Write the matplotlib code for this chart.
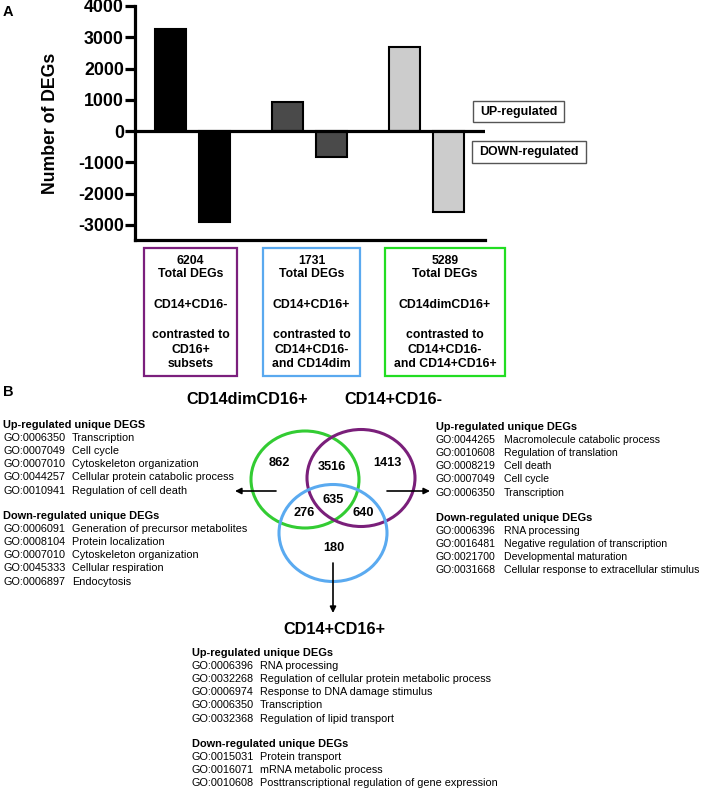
import matplotlib
matplotlib.use("Agg")
import matplotlib.pyplot as plt
import numpy as np
from matplotlib.patches import Ellipse, Rectangle

plt.rcParams["font.family"] = ["Liberation Sans", "DejaVu Sans"]
plt.rcParams["axes.unicode_minus"] = False

# panel A data
subsets = ["CD14+CD16-", "CD14+CD16+", "CD14dimCD16+"]
up_counts = [3280, 920, 2700]
down_counts = [-2920, -830, -2600]
total_degs = [6204, 1731, 5289]
contrasts = [
    ["contrasted to", "CD16+", "subsets"],
    ["contrasted to", "CD14+CD16-", "and CD14dim"],
    ["contrasted to", "CD14+CD16-", "and CD14+CD16+"],
]
bar_colors = ["#000000", "#4a4a4a", "#cccccc"]
box_colors = ["#7b1f7d", "#5aa9ef", "#22dd22"]

# panel B data (venn region counts)
venn_labels = ["862", "3516", "1413", "635", "276", "640", "180"]

left_up = [
    ("GO:0006350", "Transcription"),
    ("GO:0007049", "Cell cycle"),
    ("GO:0007010", "Cytoskeleton organization"),
    ("GO:0044257", "Cellular protein catabolic process"),
    ("GO:0010941", "Regulation of cell death"),
]
left_down = [
    ("GO:0006091", "Generation of precursor metabolites"),
    ("GO:0008104", "Protein localization"),
    ("GO:0007010", "Cytoskeleton organization"),
    ("GO:0045333", "Cellular respiration"),
    ("GO:0006897", "Endocytosis"),
]
right_up = [
    ("GO:0044265", "Macromolecule catabolic process"),
    ("GO:0010608", "Regulation of translation"),
    ("GO:0008219", "Cell death"),
    ("GO:0007049", "Cell cycle"),
    ("GO:0006350", "Transcription"),
]
right_down = [
    ("GO:0006396", "RNA processing"),
    ("GO:0016481", "Negative regulation of transcription"),
    ("GO:0021700", "Developmental maturation"),
    ("GO:0031668", "Cellular response to extracellular stimulus"),
]
bottom_up = [
    ("GO:0006396", "RNA processing"),
    ("GO:0032268", "Regulation of cellular protein metabolic process"),
    ("GO:0006974", "Response to DNA damage stimulus"),
    ("GO:0006350", "Transcription"),
    ("GO:0032368", "Regulation of lipid transport"),
]
bottom_down = [
    ("GO:0015031", "Protein transport"),
    ("GO:0016071", "mRNA metabolic process"),
    ("GO:0010608", "Posttranscriptional regulation of gene expression"),
]

W, H = 707, 790
fig = plt.figure(figsize=(W / 100, H / 100), dpi=100)

# overlay in pixel coordinates for annotations and panel B
ov = fig.add_axes([0, 0, 1, 1])
ov.set_xlim(0, W)
ov.set_ylim(H, 0)
ov.axis("off")

# bar chart
ax = fig.add_axes([135 / W, 1 - 240 / H, 350 / W, 234 / H])
ax.patch.set_alpha(0)
groups = np.arange(len(subsets))
off = 0.188
ax.bar(groups - off, up_counts, width=0.26, color=bar_colors, edgecolor="black", linewidth=1.5, zorder=2)
ax.bar(groups + off, down_counts, width=0.26, color=bar_colors, edgecolor="black", linewidth=1.5, zorder=2)
ax.axhline(0, color="black", linewidth=2.3, zorder=3)
ax.set_xlim(-0.49, 2.5)
ax.set_ylim(-3480, 4000)
ax.set_yticks(np.arange(-3000, 4001, 1000))
ax.set_xticks([])
for side in ("top", "right"):
    ax.spines[side].set_visible(False)
for side in ("left", "bottom"):
    ax.spines[side].set_linewidth(2.3)
ax.tick_params(axis="y", length=7, width=2.3, pad=1, labelsize=12.8)
for lab in ax.get_yticklabels():
    lab.set_fontweight("bold")
ax.set_ylabel("Number of DEGs", fontsize=12.7, fontweight="bold", labelpad=14)

ov.text(3, 12, "A", fontsize=10.5, fontweight="bold", ha="left", va="center")

# legend-like boxes
for (x0, x1, y0, y1), label in zip([(473, 564, 101, 122), (472, 586, 141, 163)], ["UP-regulated", "DOWN-regulated"]):
    ov.add_patch(Rectangle((x0, y0), x1 - x0, y1 - y0, fill=False, edgecolor="#555555", linewidth=1))
    ov.text((x0 + x1) / 2, (y0 + y1) / 2 + 0.5, label, fontsize=8.9, fontweight="bold", ha="center", va="center")

# boxes beneath bars
box_x = [(144, 237), (263, 360), (385, 505)]
line_y = [261, 274, 305, 335, 350, 364]
for i, (x0, x1) in enumerate(box_x):
    ov.add_patch(Rectangle((x0, 248), x1 - x0, 128, fill=False, edgecolor=box_colors[i], linewidth=1.6))
    lines = [str(total_degs[i]), "Total DEGs", subsets[i]] + contrasts[i]
    for y, t in zip(line_y, lines):
        ov.text((x0 + x1) / 2, y, t, fontsize=8.8, fontweight="bold", ha="center", va="center")

# panel B
ov.text(3, 392, "B", fontsize=10.5, fontweight="bold", ha="left", va="center")
ov.text(247, 400, "CD14dimCD16+", fontsize=11.7, fontweight="bold", ha="center", va="center")
ov.text(393, 400, "CD14+CD16-", fontsize=11.7, fontweight="bold", ha="center", va="center")
ov.text(334, 630, "CD14+CD16+", fontsize=11.7, fontweight="bold", ha="center", va="center")

venn_centers = [(305, 479.5), (361, 478), (333, 533)]
venn_colors = ["#33cc33", "#7a1f7a", "#5aaaf0"]
for (cx, cy), c in zip(venn_centers, venn_colors):
    ov.add_patch(Ellipse((cx, cy), 108, 97, fill=False, edgecolor=c, linewidth=2.2))

label_pos = [(279, 463), (332, 467), (387, 463), (333, 500), (304, 513), (363, 513), (334, 548)]
for (x, y), t in zip(label_pos, venn_labels):
    ov.text(x, y, t, fontsize=9.2, fontweight="bold", ha="center", va="center")

arrow = dict(arrowstyle="-|>", color="black", lw=1.2, mutation_scale=9, shrinkA=0, shrinkB=0)
ov.annotate("", xy=(235, 491), xytext=(276, 491), arrowprops=arrow)
ov.annotate("", xy=(430, 491), xytext=(387, 491), arrowprops=arrow)
ov.annotate("", xy=(333, 613), xytext=(333, 563), arrowprops=arrow)


def go_block(x_id, x_desc, y_top, up, down, heading_up, size=7.8, step=13.1, gap=25.5):
    ov.text(x_id, y_top, heading_up, fontsize=7.9, fontweight="bold", ha="left", va="center")
    y = y_top
    for go, desc in up:
        y += step
        ov.text(x_id, y, go, fontsize=size, ha="left", va="center")
        ov.text(x_desc, y, desc, fontsize=size, ha="left", va="center")
    y += gap
    ov.text(x_id, y, "Down-regulated unique DEGs", fontsize=7.9, fontweight="bold", ha="left", va="center")
    for go, desc in down:
        y += step
        ov.text(x_id, y, go, fontsize=size, ha="left", va="center")
        ov.text(x_desc, y, desc, fontsize=size, ha="left", va="center")


go_block(3, 72, 425, left_up, left_down, "Up-regulated unique DEGS")
go_block(436, 504, 427, right_up, right_down, "Up-regulated unique DEGs", size=7.6)
go_block(192, 260, 653, bottom_up, bottom_down, "Up-regulated unique DEGs")

fig.savefig("out.png", dpi=100, facecolor="white")
